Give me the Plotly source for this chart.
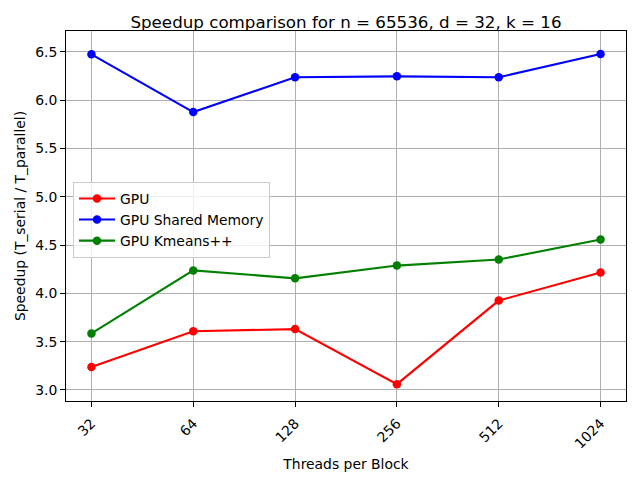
import plotly.graph_objects as go

threads = ["32", "64", "128", "256", "512", "1024"]
gpu = [3.237, 3.608, 3.63, 3.06, 3.925, 4.215]
gpu_shared = [6.473, 5.875, 6.235, 6.245, 6.235, 6.476]
gpu_kmeanspp = [3.585, 4.237, 4.155, 4.287, 4.35, 4.556]

FONT = "DejaVu Sans"
xs = list(range(len(threads)))

fig = go.Figure()
for name, vals, col in [("GPU", gpu, "red"),
                        ("GPU Shared Memory", gpu_shared, "blue"),
                        ("GPU Kmeans++", gpu_kmeanspp, "green")]:
    fig.add_trace(go.Scatter(x=xs, y=vals, mode="lines+markers", name=name,
                             line=dict(color=col, width=2.1),
                             marker=dict(color=col, size=8.5)))

axis_common = dict(showline=True, linecolor="black", linewidth=1.1, mirror=True,
                   showgrid=True, gridcolor="#b0b0b0", gridwidth=1.1,
                   ticks="outside", ticklen=4.9, tickwidth=1.1, tickcolor="black",
                   zeroline=False, automargin=False,
                   tickfont=dict(family=FONT, size=13.9, color="black"))

fig.update_layout(
    width=640, height=480,
    margin=dict(l=66, r=14, t=31, b=79),
    paper_bgcolor="white", plot_bgcolor="white",
    font=dict(family=FONT, size=13.9, color="black"),
    title=dict(text="Speedup comparison for n = 65536, d = 32, k = 16",
               x=346/640, xanchor="center", xref="container",
               y=1 - 22/480, yanchor="middle", yref="container", automargin=False,
               font=dict(family=FONT, size=16.7, color="black")),
    xaxis=dict(range=[-0.25, 5.25], tickvals=xs, ticktext=threads, tickangle=-45,
               ticklabelstandoff=3,
               title=dict(text="Threads per Block", font=dict(family=FONT, size=13.9), standoff=8),
               **axis_common),
    yaxis=dict(range=[2.886, 6.714], tickvals=[3.0, 3.5, 4.0, 4.5, 5.0, 5.5, 6.0, 6.5],
               ticktext=["3.0", "3.5", "4.0", "4.5", "5.0", "5.5", "6.0", "6.5"],
               title=dict(text="Speedup (T_serial / T_parallel)", font=dict(family=FONT, size=13.9), standoff=6),
               **axis_common),
    legend=dict(x=0.0125, y=0.592, xanchor="left", yanchor="top",
                bgcolor="rgba(255,255,255,0.8)", bordercolor="#cccccc", borderwidth=1,
                font=dict(family=FONT, size=13.9), tracegroupgap=0, itemwidth=36),
    showlegend=True,
)

fig.write_html("out.html", config={"displayModeBar": False},
               post_script="document.body.style.margin='0';document.body.style.overflow='hidden';")
